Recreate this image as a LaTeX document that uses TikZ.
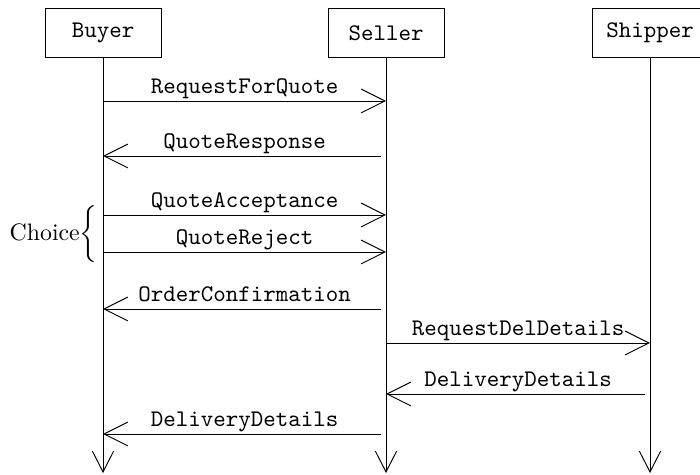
\documentclass[tikz,border=0pt]{standalone}
\usepackage{fontspec}
\usetikzlibrary{positioning,arrows.meta}

\begin{document}
\begin{tikzpicture}[x=0.42pt,y=-0.42pt,
  role/.style={draw,font=\ttfamily,minimum width=48.7pt,minimum height=20.6pt,inner sep=0pt},
  lifeline/.style={-{Straight Barb[length=8.8pt,width=9pt]}},
  msg/.style={-{Straight Barb[length=10pt,width=10pt]}},
  reply/.style={msg,shorten <=2pt},
  msglabel/.style={above,font=\ttfamily,inner sep=0.8pt,text depth=2.2pt}]
\useasboundingbox (0,0) rectangle (700,475);
%the roles
\node [role] (buyer) at (103,33) {Buyer};
\node [role] (seller) at (386,33) {Seller};
\node [role] (shipper) at (650,33) {Shipper};
%end of the lifelines
\coordinate (bottom) at (0,473);
\draw[lifeline] (buyer.south) -- (buyer |- bottom);
\draw[lifeline] (seller.south) -- (seller |- bottom);
\draw[lifeline] (shipper.south) -- (shipper |- bottom);
%message rows
\coordinate (rfq) at (0,101);
\coordinate (qresp) at (0,156);
\coordinate (qacc) at (0,215);
\coordinate (qrej) at (0,252);
\coordinate (oconf) at (0,309);
\coordinate (rdel) at (0,343);
\coordinate (ddet) at (0,394);
\coordinate (ddetb) at (0,434);
%drawings of messages
\draw[msg] (buyer |- rfq) -- node[msglabel] {RequestForQuote} (seller |- rfq);
\draw[reply] (seller |- qresp) -- node[msglabel] {QuoteResponse} (buyer |- qresp);
\draw[msg] (buyer |- qacc) -- node[msglabel] {QuoteAcceptance} (seller |- qacc);
\draw[msg] (buyer |- qrej) -- node[msglabel] {QuoteReject} (seller |- qrej);
\draw[reply] (seller |- oconf) -- node[msglabel] {OrderConfirmation} (buyer |- oconf);
\draw[msg] (seller |- rdel) -- node[msglabel] {RequestDelDetails} (shipper |- rdel);
\draw[reply] (shipper |- ddet) -- node[msglabel] {DeliveryDetails} (seller |- ddet);
\draw[reply] (seller |- ddetb) -- node[msglabel] {DeliveryDetails} (buyer |- ddetb);
%the choice brace
\node [anchor=east,inner sep=0pt] (choice) at (101,234.5)
  {Choice$\left\{\vrule height 15.75pt depth 10.75pt width 0pt\right.$};
\end{tikzpicture}
\end{document}
